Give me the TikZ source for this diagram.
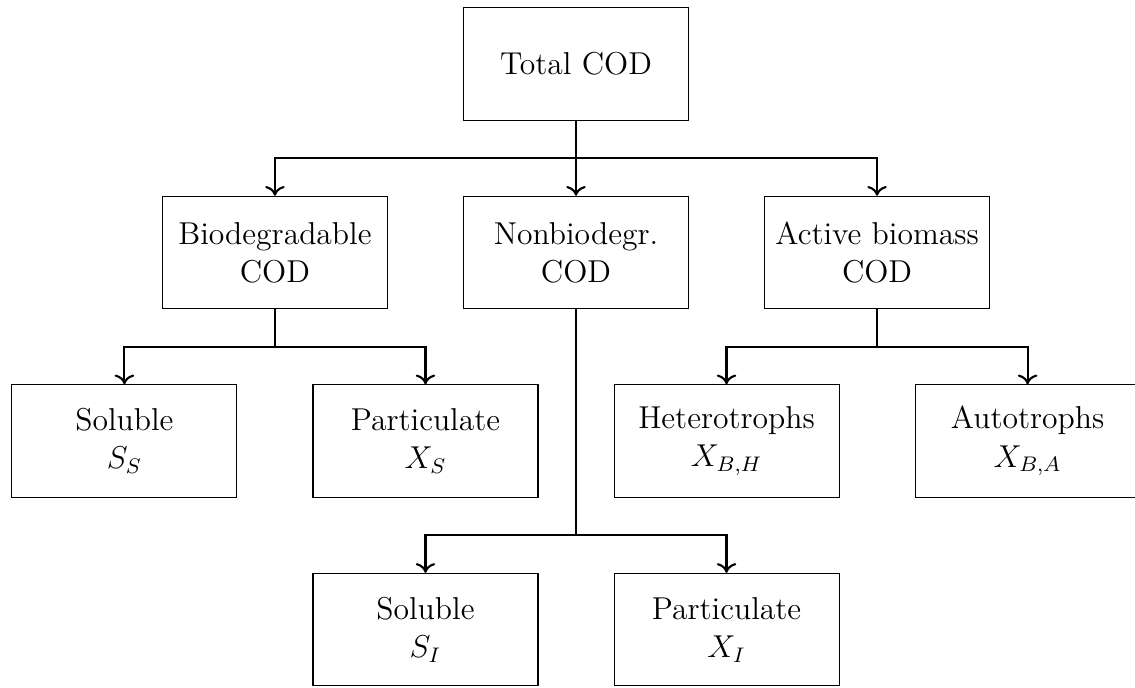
\documentclass[tikz,border=0pt,12pt]{standalone}
\usepackage{tikz}
\usetikzlibrary{arrows.meta, positioning}
\tikzset{
  box/.style={rectangle,draw,align=center,minimum width=3cm,minimum height=1.5cm},
  edge/.style={-{To[length=1.3mm,width=2.6mm]},thick}
}

\begin{document}
\begin{tikzpicture}[node distance=1cm]
\useasboundingbox (-7.68,0.853) rectangle (7.453,-8.32);
\node[box] (total) {Total COD};
\node[box, below=of total] (nonbio) {Nonbiodegr.\\COD};
\node[box, left=of nonbio] (bio) {Biodegradable\\COD};
\node[box, right=of nonbio] (active) {Active biomass\\COD};
\node[box, below=of bio, xshift=-2.007cm] (ss) {Soluble\\$S_S$};
\node[box, right=of ss] (xs) {Particulate\\$X_S$};
\node[box, right=of xs] (het) {Heterotrophs\\$X_{B,H}$};
\node[box, right=of het] (aut) {Autotrophs\\$X_{B,A}$};
\node[box, below=of xs] (si) {Soluble\\$S_I$};
\node[box, below=of het] (xi) {Particulate\\$X_I$};
% connectors
\draw[edge] (total.south) |- ([yshift=5mm]bio.north) -- (bio.north);
\draw[edge] (total.south) |- ([yshift=5mm]nonbio.north) -- (nonbio.north);
\draw[edge] (total.south) |- ([yshift=5mm]active.north) -- (active.north);
\draw[edge] (bio.south) |- ([yshift=5mm]ss.north) -- (ss.north);
\draw[edge] (bio.south) |- ([yshift=5mm]xs.north) -- (xs.north);
\draw[edge] (active.south) |- ([yshift=5mm]het.north) -- (het.north);
\draw[edge] (active.south) |- ([yshift=5mm]aut.north) -- (aut.north);
\draw[edge] (nonbio.south) |- ([yshift=5mm]si.north) -- (si.north);
\draw[edge] (nonbio.south) |- ([yshift=5mm]xi.north) -- (xi.north);
\end{tikzpicture}
\end{document}
